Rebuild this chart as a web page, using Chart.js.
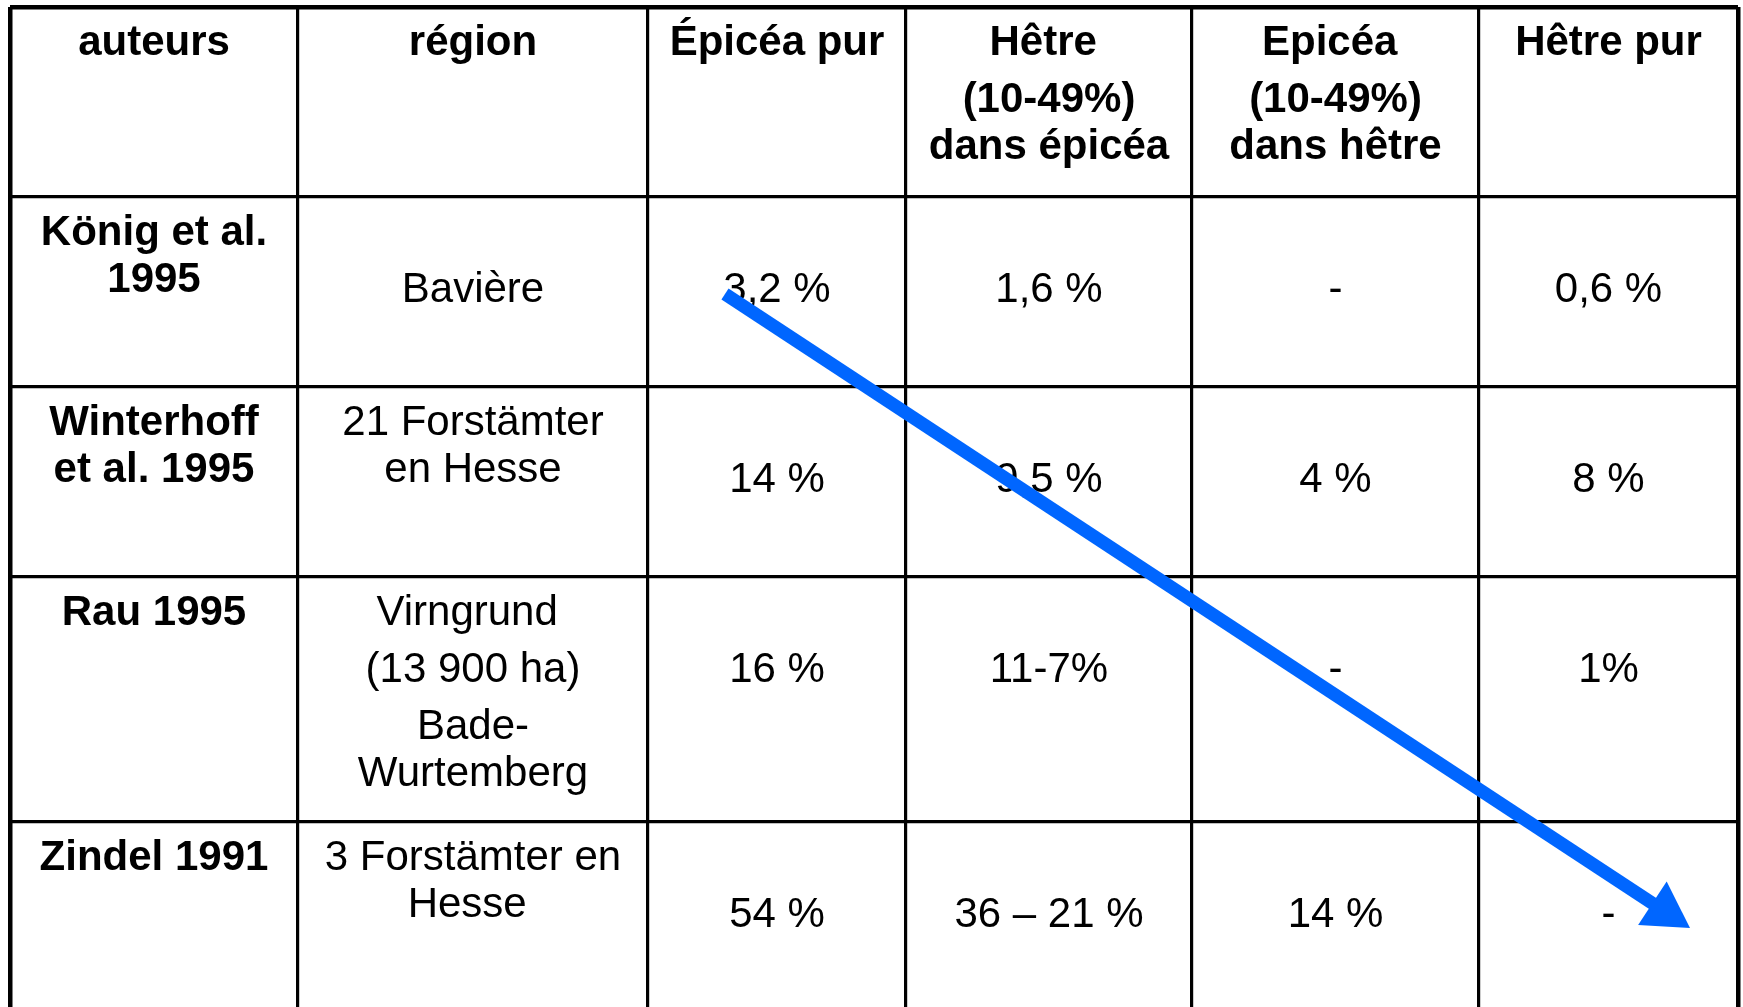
<!DOCTYPE html>
<html lang="fr">
<head>
<meta charset="utf-8">
<title>Épicéa / Hêtre</title>
<script src="https://cdn.jsdelivr.net/npm/chart.js@4.4.1/dist/chart.umd.min.js"></script>
<style>
    html, body { margin: 0; padding: 0; background: #ffffff; overflow: hidden; }
    #tableChart { display: block; }
</style>
</head>
<body>
<canvas id="tableChart" width="1743" height="1007"></canvas>
<script>
// table content (paragraphs are array items, '\n' = wrapped line)
const headers = [
    ['auteurs'],
    ['région'],
    ['Épicéa pur'],
    ['Hêtre ', '(10-49%)\ndans épicéa'],
    ['Epicéa ', '(10-49%)\ndans hêtre'],
    ['Hêtre pur']
];
const authors = [['König et al.\n1995'], ['Winterhoff\net al. 1995'], ['Rau 1995'], ['Zindel 1991']];
const regions = [['Bavière'], ['21 Forstämter\nen Hesse'], ['Virngrund ', '(13 900 ha)', 'Bade-\nWurtemberg'], ['3 Forstämter en\nHesse ']];
const epiceaPur = ['3,2 %', '14 %', '16 %', '54 %'];
const hetreDansEpicea = ['1,6 %', '9,5 %', '11-7%', '36 – 21 %'];
const epiceaDansHetre = ['-', '4 %', '-', '14 %'];
const hetrePur = ['0,6 %', '8 %', '1%', '-'];

// arrow from the "3,2 %" cell down to the last cell (in table units)
const arrowFrom = { x: 725, y: 294 };
const arrowTo = { x: 1690, y: 928 };

// grid edges of the table (in table units, 1 unit = 1 px here)
const colEdges = [10, 298, 648, 906, 1192, 1479, 1738];
const rowEdges = [7, 197, 387, 577, 822];
const TABLE_BOTTOM = 1007;
const CANVAS_W = 1743;

const FONT = '"Liberation Sans", Arial, sans-serif';
const FONT_SIZE = 42;
const LINE_GAP = 47;
const PARA_GAP = 57;
const FIRST_BASELINE = 48;   // top-aligned cells
const MID_BASELINE = 105;    // single value cells
const ARROW_BLUE = '#0066ff';
const HEAD_RADIUS = 30;

// build arrow shaft + head position
const dx = arrowTo.x - arrowFrom.x;
const dy = arrowTo.y - arrowFrom.y;
const len = Math.sqrt(dx * dx + dy * dy);
const ux = dx / len, uy = dy / len;
const headCenter = { x: arrowTo.x - ux * HEAD_RADIUS, y: arrowTo.y - uy * HEAD_RADIUS };
const shaftEnd = { x: headCenter.x - ux * HEAD_RADIUS * 0.35, y: headCenter.y - uy * HEAD_RADIUS * 0.35 };
const headRotation = Math.atan2(dy, dx) * 180 / Math.PI + 90;

// rows of the body, one entry per column
function bodyRows() {
    let rows = [];
    for (let i = 0; i < authors.length; i++) {
        rows.push([authors[i], regions[i], [epiceaPur[i]], [hetreDansEpicea[i]], [epiceaDansHetre[i]], [hetrePur[i]]]);
    }
    return rows;
}

function drawCell(ctx, xScale, yScale, col, rowTop, paragraphs, bold, middle) {
    const cx = xScale.getPixelForValue((colEdges[col] + colEdges[col + 1]) / 2);
    let y = yScale.getPixelForValue(rowTop) + (middle ? MID_BASELINE : FIRST_BASELINE);
    ctx.font = (bold ? 'bold ' : '') + FONT_SIZE + 'px ' + FONT;
    paragraphs.forEach((para, p) => {
        if (p > 0) y += PARA_GAP;
        para.split('\n').forEach((line, l) => {
            if (l > 0) y += LINE_GAP;
            ctx.fillText(line, cx, y);
        });
    });
}

// text is drawn under the arrow, after the grid
const cellText = {
    id: 'cellText',
    beforeDatasetsDraw(chart) {
        const ctx = chart.ctx;
        const xScale = chart.scales.x;
        const yScale = chart.scales.y;
        ctx.save();
        ctx.fillStyle = '#000000';
        ctx.textAlign = 'center';
        ctx.textBaseline = 'alphabetic';
        headers.forEach((h, c) => drawCell(ctx, xScale, yScale, c, rowEdges[0], h, true, false));
        bodyRows().forEach((row, r) => {
            row.forEach((cell, c) => {
                let middle = c >= 2 || (c === 1 && cell.length === 1 && cell[0].indexOf('\n') < 0);
                drawCell(ctx, xScale, yScale, c, rowEdges[r + 1], cell, c === 0, middle);
            });
        });
        ctx.restore();
    }
};

function edgeWidth(edges) {
    return (context) => (context.index === 0 || context.index === edges.length - 1) ? 4.5 : 3.2;
}

const ctx = document.getElementById('tableChart').getContext('2d');
const tableChart = new Chart(ctx, {
    type: 'scatter',
    data: {
        datasets: [
            {
                label: 'shaft',
                data: [arrowFrom, shaftEnd],
                showLine: true,
                borderColor: ARROW_BLUE,
                borderWidth: 13,
                borderCapStyle: 'butt',
                pointRadius: 0,
                pointHoverRadius: 0,
                clip: false
            },
            {
                label: 'head',
                data: [headCenter],
                pointStyle: 'triangle',
                pointRadius: HEAD_RADIUS,
                pointHoverRadius: HEAD_RADIUS,
                pointRotation: headRotation,
                backgroundColor: ARROW_BLUE,
                borderColor: ARROW_BLUE,
                pointBorderWidth: 0,
                clip: false
            }
        ]
    },
    options: {
        responsive: false,
        animation: false,
        events: [],
        layout: {
            autoPadding: false,
            padding: { left: colEdges[0], right: CANVAS_W - colEdges[colEdges.length - 1], top: rowEdges[0], bottom: 0 }
        },
        plugins: {
            legend: { display: false },
            tooltip: { enabled: false }
        },
        scales: {
            x: {
                type: 'linear',
                min: colEdges[0],
                max: colEdges[colEdges.length - 1],
                afterBuildTicks: (scale) => { scale.ticks = colEdges.map(v => ({ value: v })); },
                ticks: { display: false },
                border: { display: false },
                grid: { color: '#000000', lineWidth: edgeWidth(colEdges), drawTicks: false }
            },
            y: {
                type: 'linear',
                reverse: true,
                min: rowEdges[0],
                max: TABLE_BOTTOM,
                afterBuildTicks: (scale) => { scale.ticks = rowEdges.map(v => ({ value: v })); },
                ticks: { display: false },
                border: { display: false },
                grid: { color: '#000000', lineWidth: (context) => context.index === 0 ? 4.5 : 3.2, drawTicks: false }
            }
        }
    },
    plugins: [cellText]
});
</script>
</body>
</html>
